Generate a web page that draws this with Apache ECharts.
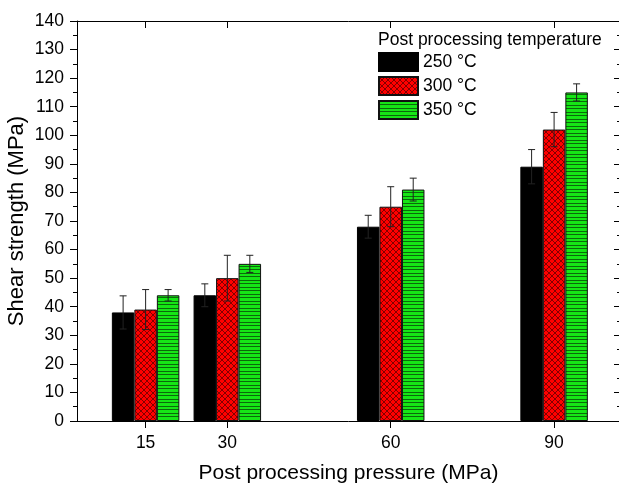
<!DOCTYPE html>
<html>
<head>
<meta charset="utf-8">
<script src="https://cdn.jsdelivr.net/npm/echarts/dist/echarts.min.js"></script>
<style>
html,body{margin:0;padding:0;background:#fff;}
#chart{width:619px;height:488px;}
</style>
</head>
<body>
<div id="chart"></div>
<script>
// ---- data ----
var pressures = [15, 30, 60, 90];
var seriesNames = ['250 °C', '300 °C', '350 °C'];
var s250 = [38, 44, 68, 89];
var e250 = [5.8, 4, 4, 6];
var s300 = [39, 50, 75, 102];
var e300 = [7, 8, 7, 6];
var s350 = [44, 55, 81, 115];
var e350 = [2, 3, 4, 3];
var yTicks = [0, 140, 10];

var FONT = "'Liberation Sans', Arial, sans-serif";
var BAR_W = 22.5;

function makeRedPattern() {
  var c = document.createElement('canvas');
  c.width = 6; c.height = 6;
  var g = c.getContext('2d');
  g.fillStyle = '#ff0000';
  g.fillRect(0, 0, 6, 6);
  g.strokeStyle = 'rgba(70,0,0,0.85)';
  g.lineWidth = 0.8;
  g.beginPath();
  g.moveTo(0, 0); g.lineTo(6, 6);
  g.moveTo(6, 0); g.lineTo(0, 6);
  g.stroke();
  return c;
}
function makeGreenPattern() {
  var c = document.createElement('canvas');
  c.width = 4; c.height = 7;
  var g = c.getContext('2d');
  g.fillStyle = '#16e616';
  g.fillRect(0, 0, 4, 7);
  g.fillStyle = '#0b6a0b';
  g.fillRect(0, 0, 4, 1);
  g.fillRect(0, 3, 4, 1);
  return c;
}

var colors = [
  '#000000',
  { image: makeRedPattern(), repeat: 'repeat' },
  { image: makeGreenPattern(), repeat: 'repeat' }
];

function pairs(xs, ys) { return xs.map(function (x, i) { return [x, ys[i]]; }); }
function triples(xs, ys, es) { return xs.map(function (x, i) { return [x, ys[i], es[i]]; }); }

function errSeries(data, offset) {
  return {
    type: 'custom',
    xAxisIndex: 0, yAxisIndex: 0,
    z: 10,
    silent: true,
    encode: { x: 0, y: 1 },
    data: data,
    renderItem: function (params, api) {
      var x = api.value(0), y = api.value(1), e = api.value(2);
      var top = api.coord([x, y + e]);
      var bot = api.coord([x, y - e]);
      var cx = top[0] + offset * BAR_W;
      var cap = 3.5;
      var st = { stroke: '#222222', lineWidth: 1 };
      return {
        type: 'group',
        children: [
          { type: 'line', shape: { x1: cx, y1: top[1], x2: cx, y2: bot[1] }, style: st },
          { type: 'line', shape: { x1: cx - cap, y1: top[1], x2: cx + cap, y2: top[1] }, style: st },
          { type: 'line', shape: { x1: cx - cap, y1: bot[1], x2: cx + cap, y2: bot[1] }, style: st }
        ]
      };
    }
  };
}

var axisLineStyle = { color: '#000', width: 1 };

var option = {
  animation: false,
  backgroundColor: '#fff',
  textStyle: { fontFamily: FONT },
  title: {
    text: 'Post processing temperature',
    left: 378, top: 31,
    padding: 0,
    textStyle: { fontFamily: FONT, fontSize: 17.5, fontWeight: 'normal', color: '#000' }
  },
  legend: {
    data: seriesNames,
    orient: 'vertical',
    left: 378, top: 52,
    padding: 0,
    itemWidth: 39, itemHeight: 18, itemGap: 4,
    icon: 'rect',
    textStyle: { fontFamily: FONT, fontSize: 17.5, color: '#000' }
  },
  grid: { left: 77, top: 21, width: 543, height: 400, containLabel: false, outerBoundsMode: 'none' },
  xAxis: [
    {
      type: 'value', position: 'bottom', min: 2.4, max: 102.1,
      name: 'Post processing pressure (MPa)',
      nameLocation: 'middle', nameGap: 42, nameMoveOverlap: false,
      nameTextStyle: { fontFamily: FONT, fontSize: 21, color: '#000' },
      axisLine: { show: true, onZero: false, lineStyle: axisLineStyle },
      axisTick: { show: true, length: 7, customValues: pressures, lineStyle: axisLineStyle },
      axisLabel: { customValues: pressures, fontSize: 17.5, color: '#000', margin: 13, fontFamily: FONT },
      splitLine: { show: false }
    },
    {
      type: 'value', position: 'top', min: 2.4, max: 102.1,
      axisLine: { show: true, onZero: false, lineStyle: axisLineStyle },
      axisTick: { show: true, inside: true, length: 7, customValues: pressures, lineStyle: axisLineStyle },
      axisLabel: { show: false },
      splitLine: { show: false }
    }
  ],
  yAxis: [
    {
      type: 'value', position: 'left', min: yTicks[0], max: yTicks[1], interval: yTicks[2],
      name: 'Shear strength (MPa)',
      nameLocation: 'middle', nameGap: 49, nameRotate: 90, nameMoveOverlap: false,
      nameTextStyle: { fontFamily: FONT, fontSize: 22, color: '#000' },
      axisLine: { show: true, onZero: false, lineStyle: axisLineStyle },
      axisTick: { show: true, length: 7, lineStyle: axisLineStyle },
      minorTick: { show: true, splitNumber: 2, length: 4, lineStyle: axisLineStyle },
      axisLabel: { fontSize: 17.5, color: '#000', margin: 13, fontFamily: FONT },
      splitLine: { show: false }
    },
    {
      type: 'value', position: 'right', min: yTicks[0], max: yTicks[1], interval: yTicks[2],
      axisLine: { show: true, onZero: false, lineStyle: axisLineStyle },
      axisTick: { show: true, inside: true, length: 6, lineStyle: axisLineStyle },
      minorTick: { show: true, splitNumber: 2, length: 3, lineStyle: axisLineStyle },
      axisLabel: { show: false },
      splitLine: { show: false }
    }
  ],
  series: [
    {
      name: seriesNames[0], type: 'bar', xAxisIndex: 0, yAxisIndex: 0,
      barWidth: BAR_W, barGap: '0%',
      itemStyle: { color: colors[0], borderColor: '#000', borderWidth: 1 },
      data: pairs(pressures, s250)
    },
    {
      name: seriesNames[1], type: 'bar', xAxisIndex: 0, yAxisIndex: 0,
      barWidth: BAR_W, barGap: '0%',
      itemStyle: { color: colors[1], borderColor: '#111', borderWidth: 1 },
      data: pairs(pressures, s300)
    },
    {
      name: seriesNames[2], type: 'bar', xAxisIndex: 0, yAxisIndex: 0,
      barWidth: BAR_W, barGap: '0%',
      itemStyle: { color: colors[2], borderColor: '#111', borderWidth: 1 },
      data: pairs(pressures, s350)
    },
    errSeries(triples(pressures, s250, e250), -1),
    errSeries(triples(pressures, s300, e300), 0),
    errSeries(triples(pressures, s350, e350), 1)
  ]
};

var chart = echarts.init(document.getElementById('chart'), null, { renderer: 'canvas' });
chart.setOption(option);
</script>
</body>
</html>
